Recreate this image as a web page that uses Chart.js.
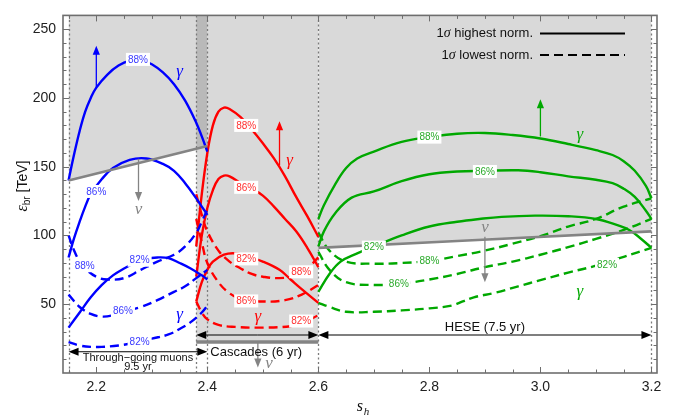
<!DOCTYPE html>
<html>
<head>
<meta charset="utf-8">
<script src="https://cdn.jsdelivr.net/npm/chart.js@4.4.1/dist/chart.umd.min.js"></script>
<style>
html, body { margin: 0; padding: 0; background: #fff; }
</style>
</head>
<body>
<canvas id="chart" width="676" height="417"></canvas>
<script>
// tick labels
var xTicks = [2.2, 2.4, 2.6, 2.8, 3.0, 3.2];
var yTicks = [50, 100, 150, 200, 250];

// nu boundaries of each data set
var muonNuX = [2.15, 2.40];
var muonNuY = [140, 165];
var cascNuX = [2.38, 2.60];
var cascNuY = [22.5, 22.5];
var heseNuX = [2.60, 2.85, 3.20];
var heseNuY = [91, 96, 103];

// through-going muons (blue)
var blueSolid88X = [2.15, 2.16, 2.17, 2.18, 2.19, 2.20, 2.22, 2.24, 2.26, 2.28, 2.30, 2.32, 2.34, 2.36, 2.38, 2.39, 2.40];
var blueSolid88Y = [140, 159, 176, 190, 200, 207.5, 217, 223.5, 227, 227.5, 224.5, 218.5, 210, 198, 182, 172, 161];
var blueSolid86X = [2.15, 2.16, 2.17, 2.18, 2.19, 2.21, 2.23, 2.26, 2.29, 2.32, 2.34, 2.36, 2.38, 2.39, 2.40];
var blueSolid86Y = [84, 98, 110, 121, 130, 141, 149, 155, 156, 152, 147, 138, 127, 121, 115];
var blueSolid82X = [2.15, 2.17, 2.19, 2.21, 2.23, 2.25, 2.27, 2.29, 2.31, 2.33, 2.35, 2.37, 2.39, 2.40];
var blueSolid82Y = [33, 44, 55, 64, 71, 76, 80, 83, 84, 83.5, 80, 76, 71, 68];
var blueDash88X = [2.15, 2.16, 2.17, 2.18, 2.20, 2.22, 2.25, 2.28, 2.31, 2.34, 2.36, 2.38, 2.39, 2.40];
var blueDash88Y = [100, 89, 81, 76, 70, 68, 69, 75, 81, 86, 92, 102, 110, 119];
var blueDash86X = [2.15, 2.17, 2.19, 2.21, 2.23, 2.25, 2.28, 2.31, 2.34, 2.36, 2.38, 2.40];
var blueDash86Y = [57, 48, 43, 41, 42, 45, 48, 53, 59, 63, 69, 75];
var blueDash82X = [2.15, 2.17, 2.19, 2.21, 2.24, 2.27, 2.30, 2.33, 2.35, 2.37, 2.39, 2.40];
var blueDash82Y = [22.5, 20, 19, 19, 20, 22, 25, 28, 32, 37, 44, 49];

// cascades (red)
var redSolid88X = [2.38, 2.39, 2.40, 2.41, 2.42, 2.43, 2.44, 2.46, 2.48, 2.50, 2.52, 2.54, 2.56, 2.58, 2.60];
var redSolid88Y = [92, 130, 160, 180, 190, 193, 192, 186, 177, 167, 156, 143, 128, 114, 99];
var redSolid86X = [2.38, 2.39, 2.40, 2.41, 2.42, 2.43, 2.44, 2.46, 2.48, 2.50, 2.52, 2.54, 2.56, 2.58, 2.60];
var redSolid86Y = [70, 100, 120, 133, 141, 143.5, 143, 138, 134, 129, 121, 112, 103, 91, 77];
var redSolid82X = [2.38, 2.39, 2.40, 2.41, 2.43, 2.45, 2.47, 2.50, 2.53, 2.55, 2.57, 2.60];
var redSolid82Y = [52, 66, 75, 81, 86, 87, 85, 81, 75, 68, 61, 51];
var redDash88X = [2.38, 2.39, 2.40, 2.42, 2.44, 2.46, 2.48, 2.50, 2.53, 2.56, 2.58, 2.60];
var redDash88Y = [130, 115, 103, 89, 81, 76, 72, 70, 69, 71, 76, 84];
var redDash86X = [2.38, 2.39, 2.40, 2.42, 2.44, 2.46, 2.50, 2.54, 2.57, 2.60];
var redDash86Y = [112, 95, 80, 66, 58, 54, 52, 53, 57, 64];
var redDash82X = [2.38, 2.39, 2.40, 2.42, 2.45, 2.50, 2.55, 2.57, 2.60];
var redDash82Y = [52, 44, 39, 35, 33.5, 33, 34, 36, 42];

// HESE (green)
var greenSolid88X = [2.60, 2.61, 2.63, 2.65, 2.67, 2.70, 2.75, 2.80, 2.85, 2.90, 2.95, 3.00, 3.05, 3.10, 3.13, 3.15, 3.17, 3.19, 3.20];
var greenSolid88Y = [112, 122, 137, 149, 156, 161, 168, 171.5, 174, 174.5, 173, 170.5, 166.5, 162, 158.5, 154, 147, 136, 127];
var greenSolid86X = [2.60, 2.61, 2.63, 2.66, 2.70, 2.75, 2.80, 2.85, 2.90, 2.96, 3.00, 3.05, 3.10, 3.13, 3.15, 3.17, 3.19, 3.20];
var greenSolid86Y = [92, 103, 116, 127.5, 132, 139.5, 144.5, 146.5, 147, 147.4, 146, 143, 140.5, 138, 134, 128, 118, 112];
var greenSolid82X = [2.60, 2.62, 2.64, 2.67, 2.70, 2.75, 2.80, 2.85, 2.89, 2.93, 2.99, 3.05, 3.10, 3.14, 3.16, 3.18, 3.20];
var greenSolid82Y = [59, 72, 81, 87, 92, 100, 106.5, 110, 112, 113.5, 114.4, 114, 112, 107.3, 104, 98, 91];
var greenDash88X = [2.60, 2.62, 2.65, 2.70, 2.75, 2.80, 2.85, 2.90, 2.95, 3.00, 3.05, 3.10, 3.15, 3.20];
var greenDash88Y = [102, 89, 81, 79.5, 80, 81.5, 85, 89, 94, 99.5, 106.5, 112, 121, 127];
var greenDash86X = [2.60, 2.62, 2.65, 2.70, 2.75, 2.80, 2.85, 2.90, 2.95, 3.00, 3.05, 3.10, 3.15, 3.20];
var greenDash86Y = [88, 75, 66, 64, 65, 68, 72, 77, 81, 86, 91.5, 97.5, 104, 112];
var greenDash82X = [2.60, 2.62, 2.65, 2.70, 2.75, 2.80, 2.84, 2.86, 2.88, 2.92, 2.96, 3.00, 3.05, 3.10, 3.15, 3.20];
var greenDash82Y = [51, 48, 44.5, 44.5, 45.5, 47, 49, 52, 55, 58.5, 63, 67.5, 73, 78, 84.5, 91];

// contour labels: text, s_h, eps
var labelText = ['88%', '86%', '82%', '88%', '86%', '82%'];
var blueLabelX = [2.275, 2.200, 2.278, 2.179, 2.248, 2.278];
var blueLabelY = [228, 132, 82, 78, 45, 23];
var redLabelX = [2.47, 2.47, 2.47, 2.569, 2.47, 2.569];
var redLabelY = [180, 135, 83, 73.6, 52.4, 37.8];
var greenLabelX = [2.80, 2.90, 2.70, 2.80, 2.745, 3.12];
var greenLabelY = [171.5, 146.5, 91.5, 81.4, 65, 79];

var vLinesX = [2.15, 2.38, 2.40, 2.60, 3.20];

var blue = '#0000ff', red = '#ff0000', green = '#00a800', nuGray = '#848484';

function pts(xs, ys) {
    return xs.map(function (x, i) { return { x: x, y: ys[i] }; });
}

function curve(xs, ys, color, dashed) {
    return {
        data: pts(xs, ys),
        borderColor: color,
        borderWidth: 2.4,
        borderDash: dashed ? [9, 5] : [],
        pointRadius: 0,
        fill: false,
        tension: 0.4
    };
}

function nuLine(xs, ys, width) {
    return {
        data: pts(xs, ys),
        borderColor: nuGray,
        borderWidth: width,
        pointRadius: 0,
        tension: 0,
        fill: 'end',
        backgroundColor: 'rgba(0,0,0,0.15)'
    };
}

function arrow(ctx, x1, y1, x2, y2, color, width, head) {
    var a = Math.atan2(y2 - y1, x2 - x1);
    ctx.save();
    ctx.strokeStyle = color;
    ctx.fillStyle = color;
    ctx.lineWidth = width;
    ctx.setLineDash([]);
    ctx.beginPath();
    ctx.moveTo(x1, y1);
    ctx.lineTo(x2 - Math.cos(a) * head * 0.8, y2 - Math.sin(a) * head * 0.8);
    ctx.stroke();
    ctx.beginPath();
    ctx.moveTo(x2, y2);
    ctx.lineTo(x2 - Math.cos(a) * head - Math.sin(a) * head * 0.4, y2 - Math.sin(a) * head + Math.cos(a) * head * 0.4);
    ctx.lineTo(x2 - Math.cos(a) * head + Math.sin(a) * head * 0.4, y2 - Math.sin(a) * head - Math.cos(a) * head * 0.4);
    ctx.closePath();
    ctx.fill();
    ctx.restore();
}

var decor = {
    id: 'decor',
    beforeDatasetsDraw: function (chart) {
        var ctx = chart.ctx, xs = chart.scales.x, ca = chart.chartArea;
        ctx.save();
        ctx.strokeStyle = '#7a7a7a';
        ctx.lineWidth = 1.3;
        ctx.setLineDash([2, 2.5]);
        vLinesX.forEach(function (v) {
            var px = Math.round(xs.getPixelForValue(v)) + 0.5;
            ctx.beginPath();
            ctx.moveTo(px, ca.top);
            ctx.lineTo(px, ca.bottom);
            ctx.stroke();
        });
        ctx.restore();
    },
    afterDatasetsDraw: function (chart) {
        var ctx = chart.ctx, xs = chart.scales.x, ys = chart.scales.y, ca = chart.chartArea;
        function X(v) { return xs.getPixelForValue(v); }
        function Y(v) { return ys.getPixelForValue(v); }

        // contour labels
        function labels(lx, ly, color) {
            ctx.save();
            ctx.font = '10px "Liberation Sans", Arial, sans-serif';
            ctx.textAlign = 'center';
            ctx.textBaseline = 'middle';
            lx.forEach(function (v, i) {
                var w = ctx.measureText(labelText[i]).width + 4;
                ctx.fillStyle = '#fff';
                ctx.fillRect(X(v) - w / 2, Y(ly[i]) - 6.5, w, 13);
                ctx.fillStyle = color;
                ctx.fillText(labelText[i], X(v), Y(ly[i]) + 0.5);
            });
            ctx.restore();
        }
        labels(blueLabelX, blueLabelY, '#3a3aff');
        labels(redLabelX, redLabelY, '#ff3030');
        labels(greenLabelX, greenLabelY, '#2aaa2a');

        // direction arrows
        arrow(ctx, X(2.2), Y(207.6), X(2.2), Y(238), blue, 1.3, 9);
        arrow(ctx, X(2.276), Y(155.7), X(2.276), Y(125), nuGray, 1.3, 9);
        arrow(ctx, X(2.53), Y(151), X(2.53), Y(183), red, 1.3, 9);
        arrow(ctx, X(2.491), Y(22.5), X(2.491), Y(4), nuGray, 1.3, 9);
        arrow(ctx, X(3.0), Y(172), X(3.0), Y(199), green, 1.3, 9);
        arrow(ctx, X(2.9), Y(99), X(2.9), Y(66), nuGray, 1.3, 9);

        // gamma / nu marks
        var greek = [
            ['\u03b3', 2.35, 219.4, blue], ['\u03b3', 2.35, 42.5, blue], ['\u03bd', 2.276, 119, nuGray],
            ['\u03b3', 2.548, 154.5, red], ['\u03b3', 2.491, 41.3, red], ['\u03bd', 2.511, 7, nuGray],
            ['\u03b3', 3.071, 173.4, green], ['\u03bd', 2.9, 105.5, nuGray], ['\u03b3', 3.071, 59, green]
        ];
        ctx.save();
        ctx.font = 'italic 17px "Liberation Serif", "DejaVu Serif", serif';
        ctx.textAlign = 'center';
        ctx.textBaseline = 'middle';
        greek.forEach(function (g) {
            ctx.fillStyle = g[3];
            ctx.fillText(g[0], X(g[1]), Y(g[2]));
        });
        ctx.restore();

        // sample ranges
        function range(a, b, y) {
            arrow(ctx, X((a + b) / 2), Y(y), X(a), Y(y), '#000', 1.1, 10);
            arrow(ctx, X((a + b) / 2), Y(y), X(b), Y(y), '#000', 1.1, 10);
        }
        range(2.15, 2.40, 15.4);
        range(2.38, 2.60, 27.6);
        range(2.60, 3.20, 27.6);
        ctx.save();
        ctx.fillStyle = '#111';
        ctx.textAlign = 'center';
        ctx.textBaseline = 'middle';
        ctx.font = '11px "Liberation Sans", Arial, sans-serif';
        ctx.fillText('Through\u2212going muons', X(2.275), Y(10.9));
        ctx.fillText('9.5 yr', X(2.275), Y(4.4));
        ctx.font = '13px "Liberation Sans", Arial, sans-serif';
        ctx.fillText('Cascades (6 yr)', X(2.488), Y(15.2));
        ctx.fillText('HESE (7.5 yr)', X(2.9), Y(33.5));
        ctx.restore();

        // legend
        ctx.save();
        ctx.fillStyle = '#111';
        ctx.textBaseline = 'middle';
        var rows = [[' highest norm.', 33.5, []], [' lowest norm.', 55, [9, 5]]];
        rows.forEach(function (r) {
            ctx.font = '13px "Liberation Sans", Arial, sans-serif';
            var w1 = ctx.measureText('1').width, w3 = ctx.measureText(r[0]).width;
            ctx.font = 'italic 14px "Liberation Serif", serif';
            var w2 = ctx.measureText('\u03c3').width;
            var right = ca.right - 124, left = right - w1 - w2 - w3;
            ctx.font = '13px "Liberation Sans", Arial, sans-serif';
            ctx.fillText('1', left, r[1]);
            ctx.fillText(r[0], left + w1 + w2, r[1]);
            ctx.font = 'italic 14px "Liberation Serif", serif';
            ctx.fillText('\u03c3', left + w1, r[1]);
            ctx.strokeStyle = '#000';
            ctx.lineWidth = 2;
            ctx.setLineDash(r[2]);
            ctx.beginPath();
            ctx.moveTo(ca.right - 117, r[1]);
            ctx.lineTo(ca.right - 32, r[1]);
            ctx.stroke();
        });
        ctx.restore();

        // frame with inward ticks
        ctx.save();
        ctx.strokeStyle = '#6e6e6e';
        ctx.lineWidth = 1;
        ctx.setLineDash([]);
        ctx.beginPath();
        var v, p, len, k;
        for (k = 0; k <= 21; k++) {
            v = 2.15 + k * 0.05;
            p = Math.round(X(v)) + 0.5;
            len = k % 4 === 1 ? 6 : 3.5;
            ctx.moveTo(p, ca.bottom); ctx.lineTo(p, ca.bottom - len);
            ctx.moveTo(p, ca.top); ctx.lineTo(p, ca.top + len);
        }
        for (v = 10; v <= 260; v += 10) {
            p = Math.round(Y(v)) + 0.5;
            len = v % 50 === 0 ? 6 : 3.5;
            ctx.moveTo(ca.left, p); ctx.lineTo(ca.left + len, p);
            ctx.moveTo(ca.right, p); ctx.lineTo(ca.right - len, p);
        }
        ctx.stroke();
        ctx.lineWidth = 1.6;
        ctx.strokeRect(ca.left, ca.top, ca.right - ca.left, ca.bottom - ca.top);
        ctx.restore();

        // axis titles
        ctx.save();
        ctx.fillStyle = '#111';
        ctx.textBaseline = 'middle';
        ctx.font = 'italic 16px "Liberation Serif", serif';
        ctx.fillText('s', X(2.68) - 6, 407);
        ctx.font = 'italic 11px "Liberation Serif", serif';
        ctx.fillText('h', X(2.68) + 1, 412);
        ctx.translate(23, 186);
        ctx.rotate(-Math.PI / 2);
        ctx.font = 'italic 16px "Liberation Serif", serif';
        var we = ctx.measureText('\u03b5').width;
        ctx.font = '10px "Liberation Sans", Arial, sans-serif';
        var wb = ctx.measureText('br').width;
        ctx.font = '14px "Liberation Sans", Arial, sans-serif';
        var wt = ctx.measureText(' [TeV]').width;
        var x0 = -(we + wb + wt) / 2;
        ctx.font = 'italic 16px "Liberation Serif", serif';
        ctx.fillText('\u03b5', x0, 0);
        ctx.font = '10px "Liberation Sans", Arial, sans-serif';
        ctx.fillText('br', x0 + we, 4);
        ctx.font = '14px "Liberation Sans", Arial, sans-serif';
        ctx.fillText(' [TeV]', x0 + we + wb, 0);
        ctx.restore();
    }
};

var ctx = document.getElementById('chart').getContext('2d');
var chart = new Chart(ctx, {
    type: 'line',
    data: {
        datasets: [
            nuLine(muonNuX, muonNuY, 2.6),
            nuLine(cascNuX, cascNuY, 3.6),
            nuLine(heseNuX, heseNuY, 2.6),
            curve(blueSolid88X, blueSolid88Y, blue, false),
            curve(blueSolid86X, blueSolid86Y, blue, false),
            curve(blueSolid82X, blueSolid82Y, blue, false),
            curve(blueDash88X, blueDash88Y, blue, true),
            curve(blueDash86X, blueDash86Y, blue, true),
            curve(blueDash82X, blueDash82Y, blue, true),
            curve(redSolid88X, redSolid88Y, red, false),
            curve(redSolid86X, redSolid86Y, red, false),
            curve(redSolid82X, redSolid82Y, red, false),
            curve(redDash88X, redDash88Y, red, true),
            curve(redDash86X, redDash86Y, red, true),
            curve(redDash82X, redDash82Y, red, true),
            curve(greenSolid88X, greenSolid88Y, green, false),
            curve(greenSolid86X, greenSolid86Y, green, false),
            curve(greenSolid82X, greenSolid82Y, green, false),
            curve(greenDash88X, greenDash88Y, green, true),
            curve(greenDash86X, greenDash86Y, green, true),
            curve(greenDash82X, greenDash82Y, green, true)
        ]
    },
    options: {
        responsive: false,
        animation: false,
        layout: { padding: { left: 0, right: 19, top: 6, bottom: 0 } },
        plugins: {
            legend: { display: false },
            tooltip: { enabled: false },
            filler: { drawTime: 'beforeDatasetsDraw' }
        },
        scales: {
            x: {
                type: 'linear',
                min: 2.14,
                max: 3.21,
                grid: { display: false, drawTicks: false },
                border: { display: false },
                afterBuildTicks: function (s) { s.ticks = xTicks.map(function (v) { return { value: v }; }); },
                afterFit: function (s) { s.height = 44; },
                ticks: {
                    color: '#222',
                    padding: 6,
                    maxRotation: 0,
                    font: { family: '"Liberation Sans", Arial, sans-serif', size: 14 },
                    callback: function (v) { return v.toFixed(1); }
                }
            },
            y: {
                min: 0,
                max: 260,
                grid: { display: false, drawTicks: false },
                border: { display: false },
                afterBuildTicks: function (s) { s.ticks = yTicks.map(function (v) { return { value: v }; }); },
                afterFit: function (s) { s.width = 63; },
                ticks: {
                    color: '#222',
                    padding: 7,
                    font: { family: '"Liberation Sans", Arial, sans-serif', size: 14 }
                }
            }
        }
    },
    plugins: [decor]
});
</script>
</body>
</html>
